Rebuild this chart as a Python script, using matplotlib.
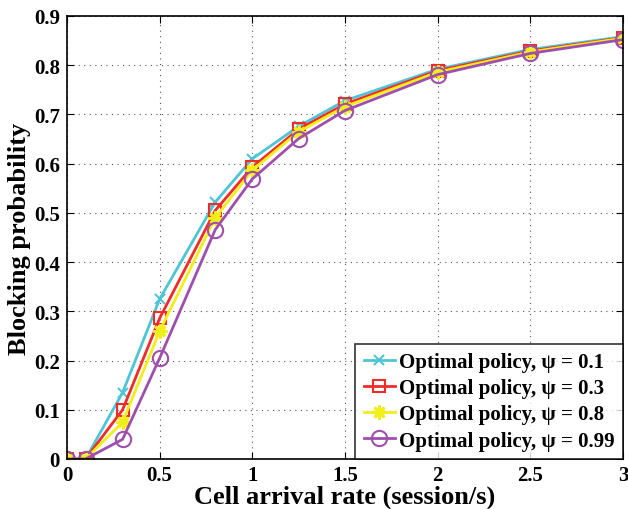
import matplotlib
matplotlib.use("Agg")
import matplotlib.pyplot as plt

x = [0, 0.1, 0.3, 0.5, 0.8, 1.0, 1.25, 1.5, 2.0, 2.5, 3.0]
psi_01 = [0, 0, 0.135, 0.325, 0.522, 0.610, 0.676, 0.728, 0.792, 0.832, 0.858]
psi_03 = [0, 0, 0.100, 0.286, 0.505, 0.593, 0.670, 0.721, 0.789, 0.829, 0.856]
psi_08 = [0, 0, 0.075, 0.260, 0.490, 0.587, 0.665, 0.716, 0.786, 0.827, 0.855]
psi_099 = [0, 0, 0.040, 0.205, 0.466, 0.569, 0.651, 0.708, 0.781, 0.824, 0.852]
labels = ["Optimal policy, \u03c8 = 0.1", "Optimal policy, \u03c8 = 0.3",
          "Optimal policy, \u03c8 = 0.8", "Optimal policy, \u03c8 = 0.99"]
xticks = [0, 0.5, 1, 1.5, 2, 2.5, 3]
yticks = [0, 0.1, 0.2, 0.3, 0.4, 0.5, 0.6, 0.7, 0.8, 0.9]

plt.rcParams['font.family'] = ['Liberation Serif', 'DejaVu Serif']
plt.rcParams['font.weight'] = 'bold'

fig = plt.figure(figsize=(6.28, 5.10), dpi=100)
ax = fig.add_axes([67/628, 50/510, 556/628, 443/510])

styles = [
    dict(color='#4ec5d6', marker='x', ms=7, mew=1.5, mfc='none'),
    dict(color='#f22a2a', marker='s', ms=8, mew=1.5, mfc='none'),
    dict(color='#f2ee1a', marker=(8, 2, 0), ms=10, mew=2.0, mfc='none'),
    dict(color='#9e4fae', marker='o', ms=11, mew=1.5, mfc='none'),
]
for ys, lab, st in zip([psi_01, psi_03, psi_08, psi_099], labels, styles):
    ax.plot(x, ys, lw=2, label=lab, **st)

ax.set_xlim(0, 3)
ax.set_ylim(0, 0.9)
ax.set_xticks(xticks)
ax.set_xticklabels([f"{t:g}" for t in xticks])
ax.set_yticks(yticks)
ax.set_yticklabels([f"{t:g}" for t in yticks])
ax.tick_params(direction='in', top=True, right=True, labelsize=15, length=5, pad=5)
ax.tick_params(axis='x', pad=4)
for lbl in ax.get_xticklabels() + ax.get_yticklabels():
    lbl.set_fontweight('bold')
ax.grid(True, linestyle=(0, (1, 4)), color='#555555', lw=0.8)
for sp in ax.spines.values():
    sp.set_linewidth(1.2)
ax.set_xlabel("Cell arrival rate (session/s)", fontsize=19, fontweight='bold', labelpad=0)
ax.set_ylabel("Blocking probability", fontsize=19, fontweight='bold', labelpad=2)

leg = ax.legend(loc='lower right', fontsize=15, frameon=True, fancybox=False,
                edgecolor='black', borderaxespad=0, handlelength=1.5,
                handletextpad=0.2, borderpad=0.4, labelspacing=0.3)
leg.get_frame().set_linewidth(1.2)
for t in leg.get_texts():
    t.set_fontweight('bold')

fig.savefig("out.png", dpi=100)
